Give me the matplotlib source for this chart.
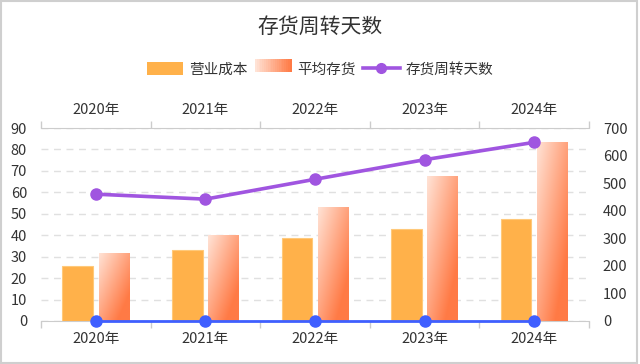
import numpy as np
import matplotlib.pyplot as plt
import matplotlib.colors as mcolors
from matplotlib.patches import Rectangle
from matplotlib.lines import Line2D
from matplotlib.legend_handler import HandlerBase

plt.rcParams['font.family'] = ['Noto Sans CJK SC', 'DejaVu Sans']

years = ['2020年', '2021年', '2022年', '2023年', '2024年']
cost = [25.8, 33.2, 38.7, 42.7, 47.6]        # 营业成本
inventory = [31.8, 40.1, 53.2, 67.6, 83.7]   # 平均存货
days = [460, 442, 514, 585, 648]             # 存货周转天数
zero_series = [0, 0, 0, 0, 0]

c_orange = '#FFB14A'
c_light = np.array(mcolors.to_rgb('#FFE3D6'))
c_dark = np.array(mcolors.to_rgb('#FF7A45'))
c_purple = '#A055E0'
c_blue = '#3F5FFF'
c_text = '#333333'
c_axis = '#CCCCCC'


def grad_img(n=60):
    u = np.linspace(0, 1, n)
    v = np.linspace(0, 1, n)
    U, V = np.meshgrid(u, v)
    t = np.clip((U + V) / 2 / 0.8, 0, 1)
    return c_light[None, None, :] * (1 - t[..., None]) + c_dark[None, None, :] * t[..., None]


class GradHandler(HandlerBase):
    def create_artists(self, legend, orig, xd, yd, w, h, fs, trans):
        arts = []
        n = 20
        for i in range(n):
            t = i / (n - 1)
            col = c_light * (1 - t) + c_dark * t
            arts.append(Rectangle((xd + w * i / n, yd), w / n + 0.3, h, fc=col, ec='none', transform=trans))
        return arts


fig = plt.figure(figsize=(6.4, 3.64), dpi=100)
fig.patches.append(Rectangle((0.002, 0.004), 0.994, 0.992, transform=fig.transFigure,
                             fill=False, ec='#CFCFCF', lw=1.5))
ax = fig.add_axes([41 / 640, 43 / 364, 548 / 640, 193 / 364])
ax2 = ax.twinx()

x = np.arange(len(years))
bw = 0.28
off = 0.165

ax.bar(x - off, cost, bw, color=c_orange, ec='#FFC97A', lw=0.8, zorder=3)
img = grad_img()
for xi, v in zip(x, inventory):
    r = Rectangle((xi + off - bw / 2, 0), bw, v, fc='none', ec='none')
    ax.add_patch(r)
    im = ax.imshow(img, extent=(xi + off - bw / 2, xi + off + bw / 2, 0, v),
                   aspect='auto', origin='upper', zorder=3, interpolation='bilinear')
    im.set_clip_path(r)

ax2.plot(x, days, color=c_purple, lw=2.6, marker='o', ms=8, zorder=5)
# zero series sits on the left axis but must draw above the twin axes spines
ax2.plot(x, np.array(zero_series) * 700 / 90, color=c_blue, lw=2, marker='o', ms=8,
         zorder=6, clip_on=False)

ax.set_xlim(-0.5, 4.5)
ax.set_ylim(0, 90)
ax.set_yticks(range(0, 91, 10))
ax2.set_ylim(0, 700)
ax2.set_yticks(range(0, 701, 100))

ax.grid(axis='y', color='#E0E0E0', ls=(0, (5, 4)), lw=1)
ax.set_axisbelow(True)

ax.set_xticks(np.arange(-0.5, 5, 1))
ax.set_xticklabels([])
ax.set_xticks(x, minor=True)
ax.set_xticklabels(years, minor=True)
ax.tick_params(axis='x', which='major', length=5, color=c_axis, width=1, top=True)
ax.tick_params(axis='x', which='minor', length=0, pad=8, labelsize=10.5, labelcolor=c_text,
               top=True, labeltop=True)
ax.tick_params(axis='y', length=0, pad=10, labelsize=10.5, labelcolor=c_text)
ax2.tick_params(axis='y', length=0, pad=10, labelsize=10.5, labelcolor=c_text)

for s in ax2.spines.values():
    s.set_visible(False)
ax.spines['left'].set_visible(False)
ax.spines['right'].set_visible(False)
ax.spines['top'].set_color(c_axis)
ax.spines['bottom'].set_color(c_axis)

fig.text(0.5, 0.925, '存货周转天数', ha='center', va='center', fontsize=15, color=c_text)

handles = [Rectangle((0, 0), 1, 1, fc=c_orange, ec='none'),
           Rectangle((0, 0), 1, 1),
           Line2D([], [], color=c_purple, lw=2.6, marker='o', ms=7)]
fig.legend(handles, ['营业成本', '平均存货', '存货周转天数'],
           handler_map={handles[1]: GradHandler()},
           loc='center', bbox_to_anchor=(0.5, 0.81), ncol=3, frameon=False,
           fontsize=10.5, handlelength=2.5, handleheight=1.0, columnspacing=0.5,
           handletextpad=0.4, labelcolor=c_text)

fig.savefig('out.png', dpi=100)
